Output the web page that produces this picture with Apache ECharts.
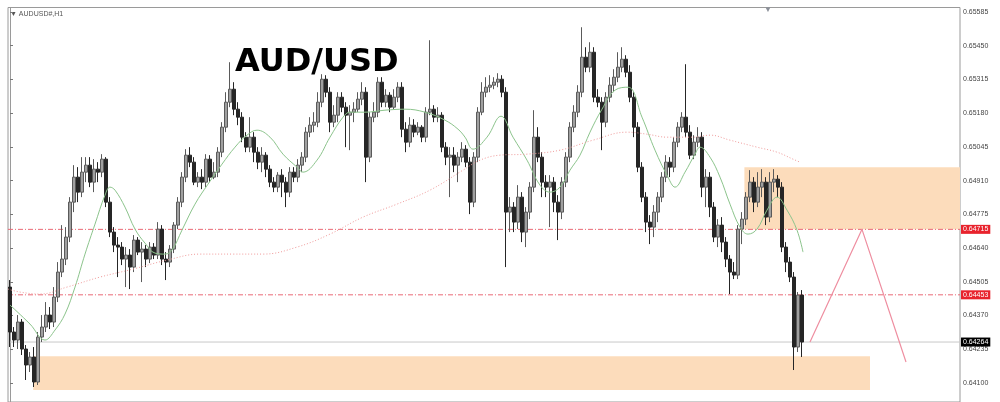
<!DOCTYPE html>
<html><head><meta charset="utf-8">
<script src="https://cdn.jsdelivr.net/npm/echarts@6/dist/echarts.min.js"></script>
<style>html,body{margin:0;padding:0;background:#fff}#c{width:1000px;height:402px}</style>
</head><body><div id="c"></div>
<script>
// ---- data (H1 candles) ----
const opens = [0.64484,0.64304,0.64272,0.64344,0.64236,0.64172,0.64204,0.64104,0.64284,0.64324,
0.64372,0.64344,0.64444,0.64544,0.64596,0.64684,0.64824,0.64924,0.64864,0.64944,
0.64972,0.64904,0.64956,0.64944,0.64996,0.64824,0.64704,0.64652,0.64644,0.64596,
0.64612,0.64564,0.64672,0.64624,0.64636,0.64596,0.64644,0.64612,0.64716,0.64596,
0.64584,0.64636,0.64732,0.64824,0.64924,0.65012,0.64984,0.64904,0.64924,0.64904,
0.64996,0.64924,0.64944,0.65024,0.65124,0.65224,0.65276,0.65196,0.65164,0.65084,
0.65044,0.65084,0.65024,0.64984,0.65012,0.64956,0.64904,0.64884,0.64932,0.64904,
0.64864,0.64944,0.64924,0.64972,0.65004,0.65104,0.65132,0.65144,0.65224,0.65316,
0.65264,0.65144,0.65172,0.65244,0.65204,0.65172,0.65184,0.65196,0.65236,0.65264,
0.65004,0.65164,0.65184,0.65304,0.65224,0.65252,0.65204,0.65244,0.65284,0.65116,
0.65064,0.65132,0.65104,0.65124,0.65084,0.65184,0.65196,0.65164,0.65172,0.65044,
0.65004,0.65012,0.64972,0.65004,0.65036,0.64984,0.64824,0.65004,0.65184,0.65264,
0.65284,0.65292,0.65304,0.65316,0.65264,0.64784,0.64804,0.64744,0.64844,0.64704,
0.64784,0.64884,0.65084,0.65004,0.64904,0.64884,0.64904,0.64824,0.64784,0.64904,
0.65004,0.65124,0.65184,0.65264,0.65404,0.65364,0.65424,0.65244,0.65224,0.65144,
0.65244,0.65292,0.65324,0.65364,0.65396,0.65344,0.65244,0.65124,0.64964,0.64844,
0.64744,0.64724,0.64784,0.64844,0.64924,0.64984,0.64964,0.65064,0.65124,0.65164,
0.65104,0.65012,0.65064,0.65084,0.64884,0.64924,0.64804,0.64684,0.64732,0.64664,
0.64596,0.64544,0.64532,0.64716,0.64756,0.64844,0.64904,0.64824,0.64884,0.64904,
0.64764,0.64904,0.64916,0.64884,0.64644,0.64584,0.64524,0.64244,0.64452];
const closes = [0.64304,0.64272,0.64344,0.64236,0.64172,0.64204,0.64104,0.64284,0.64324,0.64372,
0.64344,0.64444,0.64544,0.64596,0.64684,0.64824,0.64924,0.64864,0.64944,0.64972,
0.64904,0.64956,0.64944,0.64996,0.64824,0.64704,0.64652,0.64644,0.64596,0.64612,
0.64564,0.64672,0.64624,0.64636,0.64596,0.64644,0.64612,0.64716,0.64596,0.64584,
0.64636,0.64732,0.64824,0.64924,0.65012,0.64984,0.64904,0.64924,0.64904,0.64996,
0.64924,0.64944,0.65024,0.65124,0.65224,0.65276,0.65196,0.65164,0.65084,0.65044,
0.65084,0.65024,0.64984,0.65012,0.64956,0.64904,0.64884,0.64932,0.64904,0.64864,
0.64944,0.64924,0.64972,0.65004,0.65104,0.65132,0.65144,0.65224,0.65316,0.65264,
0.65144,0.65172,0.65244,0.65204,0.65172,0.65184,0.65196,0.65236,0.65264,0.65004,
0.65164,0.65184,0.65304,0.65224,0.65252,0.65204,0.65244,0.65284,0.65116,0.65064,
0.65132,0.65104,0.65124,0.65084,0.65184,0.65196,0.65164,0.65172,0.65044,0.65004,
0.65012,0.64972,0.65004,0.65036,0.64984,0.64824,0.65004,0.65184,0.65264,0.65284,
0.65292,0.65304,0.65316,0.65264,0.64784,0.64804,0.64744,0.64844,0.64704,0.64784,
0.64884,0.65084,0.65004,0.64904,0.64884,0.64904,0.64824,0.64784,0.64904,0.65004,
0.65124,0.65184,0.65264,0.65404,0.65364,0.65424,0.65244,0.65224,0.65144,0.65244,
0.65292,0.65324,0.65364,0.65396,0.65344,0.65244,0.65124,0.64964,0.64844,0.64744,
0.64724,0.64784,0.64844,0.64924,0.64984,0.64964,0.65064,0.65124,0.65164,0.65104,
0.65012,0.65064,0.65084,0.64884,0.64924,0.64804,0.64684,0.64732,0.64664,0.64596,
0.64544,0.64532,0.64716,0.64756,0.64844,0.64904,0.64824,0.64884,0.64904,0.64764,
0.64904,0.64916,0.64884,0.64644,0.64584,0.64524,0.64244,0.64452,0.64264];
const lows = [0.64244,0.64244,0.64236,0.64212,0.64112,0.64144,0.64084,0.64092,0.64264,0.64304,
0.64316,0.64324,0.64424,0.64524,0.64572,0.64664,0.64784,0.64824,0.64844,0.64904,
0.64884,0.64864,0.64904,0.64924,0.64804,0.64684,0.64624,0.64524,0.64572,0.64484,
0.64476,0.64544,0.64612,0.64504,0.64564,0.64580,0.64596,0.64596,0.64572,0.64512,
0.64564,0.64620,0.64716,0.64804,0.64904,0.64964,0.64892,0.64884,0.64876,0.64884,
0.64904,0.64916,0.64924,0.65004,0.65104,0.65204,0.65172,0.65132,0.65064,0.65024,
0.65024,0.64984,0.64956,0.64944,0.64924,0.64884,0.64864,0.64864,0.64844,0.64804,
0.64844,0.64904,0.64904,0.64944,0.64984,0.65084,0.65104,0.65124,0.65204,0.65244,
0.65104,0.65124,0.65144,0.65184,0.65044,0.65032,0.65144,0.65184,0.65212,0.64904,
0.64984,0.65144,0.65164,0.65204,0.65204,0.65184,0.65196,0.65224,0.65084,0.65024,
0.65044,0.65084,0.65092,0.65064,0.65064,0.65172,0.65144,0.65144,0.65024,0.64972,
0.64844,0.64944,0.64904,0.64984,0.64964,0.64776,0.64804,0.64984,0.65172,0.65244,
0.65264,0.65276,0.65284,0.65244,0.64564,0.64704,0.64704,0.64716,0.64664,0.64644,
0.64756,0.64864,0.64984,0.64844,0.64844,0.64724,0.64784,0.64672,0.64756,0.64884,
0.64984,0.65104,0.65164,0.65244,0.65344,0.65344,0.65224,0.65204,0.65032,0.65124,
0.65224,0.65264,0.65304,0.65344,0.65324,0.65224,0.65084,0.64944,0.64824,0.64704,
0.64656,0.64684,0.64744,0.64824,0.64904,0.64924,0.64944,0.65044,0.65104,0.65084,
0.64996,0.64996,0.65044,0.64844,0.64804,0.64764,0.64664,0.64644,0.64624,0.64564,
0.64456,0.64516,0.64516,0.64656,0.64732,0.64824,0.64784,0.64804,0.64844,0.64732,
0.64744,0.64864,0.64844,0.64624,0.64544,0.64504,0.64152,0.64224,0.64204];
const highs = [0.64512,0.64324,0.64372,0.64356,0.64252,0.64224,0.64244,0.64304,0.64372,0.64424,
0.64404,0.64484,0.64584,0.64732,0.64724,0.64844,0.64972,0.64964,0.65004,0.65004,
0.65004,0.64996,0.64984,0.65016,0.65004,0.64844,0.64724,0.64684,0.64664,0.64644,
0.64636,0.64692,0.64684,0.64664,0.64652,0.64664,0.64660,0.64744,0.64732,0.64624,
0.64652,0.64744,0.64844,0.64944,0.65036,0.65044,0.65004,0.64944,0.64956,0.65016,
0.65012,0.64984,0.65044,0.65144,0.65264,0.65384,0.65304,0.65224,0.65184,0.65104,
0.65164,0.65104,0.65044,0.65044,0.65024,0.64972,0.64924,0.64944,0.64956,0.64924,
0.64964,0.64964,0.64996,0.65024,0.65124,0.65164,0.65184,0.65264,0.65336,0.65332,
0.65284,0.65212,0.65264,0.65264,0.65224,0.65212,0.65224,0.65264,0.65304,0.65284,
0.65184,0.65224,0.65324,0.65324,0.65276,0.65264,0.65276,0.65304,0.65304,0.65144,
0.65164,0.65156,0.65144,0.65132,0.65204,0.65472,0.65212,0.65204,0.65184,0.65064,
0.65044,0.65044,0.65024,0.65064,0.65052,0.65004,0.65024,0.65204,0.65304,0.65324,
0.65332,0.65324,0.65340,0.65332,0.65284,0.64844,0.64824,0.64892,0.64864,0.64804,
0.64904,0.65192,0.65124,0.65024,0.64932,0.64932,0.64924,0.64852,0.64924,0.65024,
0.65144,0.65212,0.65292,0.65524,0.65444,0.65464,0.65444,0.65276,0.65244,0.65264,
0.65324,0.65356,0.65424,0.65444,0.65412,0.65372,0.65264,0.65144,0.64984,0.64864,
0.64772,0.64812,0.64864,0.64944,0.65012,0.65004,0.65084,0.65144,0.65184,0.65376,
0.65132,0.65092,0.65124,0.65104,0.64956,0.64944,0.64824,0.64756,0.64764,0.64684,
0.64612,0.64584,0.64732,0.64784,0.64864,0.64952,0.64924,0.64944,0.64956,0.64924,
0.64944,0.64956,0.64932,0.64904,0.64664,0.64604,0.64544,0.64464,0.64472];

const slotCount = 238; // bars visible incl. empty right margin
const categories = Array.from({length: slotCount}, (_, i) => 'bar' + i);

const priceTicks = [0.64100,0.64235,0.64370,0.64505,0.64640,0.64775,0.64910,0.65045,0.65180,0.65315,0.65450,0.65585];
const levelPrices = [0.64715, 0.64453];
const bidPrice = 0.64264;

// fast MA (green) sampled at bar positions
const maFastBars = [0,5,8.75,11.25,13.75,16.25,18.75,21.25,23.75,25,26.25,28.75,31.25,33.75,36.25,38.75,40.5,43,46.25,49.5,53,56.25,59.25,61.75,65,68.25,71.75,73.25,76.75,80,83.25,85,88.75,93.75,98.75,103.75,108.75,112,113.75,115.75,119.25,122.75,125.75,129.25,132.5,135,137.5,140,142.5,145,148,151.25,154.5,158,161.25,164.5,166.25,168.75,171.25,172.5,175,177.5,180,182.5,184.5,186.75,189.25,191.75,194.25,196.75,198.25];
const maFastVals = [0.64412,0.64336,0.64272,0.64312,0.64376,0.64484,0.64616,0.64736,0.64852,0.64884,0.64872,0.64804,0.64716,0.64660,0.64620,0.64616,0.64632,0.64712,0.64816,0.64896,0.64976,0.65044,0.65092,0.65112,0.65084,0.65016,0.64964,0.64944,0.64992,0.65084,0.65164,0.65184,0.65184,0.65192,0.65196,0.65184,0.65152,0.65116,0.65084,0.65036,0.65084,0.65168,0.65084,0.64992,0.64892,0.64864,0.64884,0.64952,0.65012,0.65104,0.65196,0.65272,0.65284,0.65164,0.65032,0.64924,0.64884,0.64944,0.65016,0.65044,0.65004,0.64924,0.64816,0.64724,0.64696,0.64716,0.64792,0.64844,0.64792,0.64712,0.64624];
// slow MA (pink dotted)
const maSlowBars = [-0.5,2.5,7.5,14.25,22.5,30.75,39.25,47.5,55.75,63.25,71.75,80,88.25,96.75,105,113.25,117.5,122.5,129.25,137.5,145.75,154.25,159.25,164.25,170.75,175,180,186.75,191.75,195.75,197.5];
const maSlowVals = [0.64476,0.64464,0.64456,0.64484,0.64524,0.64556,0.64592,0.64616,0.64616,0.64616,0.64644,0.64696,0.64764,0.64816,0.64872,0.64952,0.64992,0.65012,0.65016,0.65032,0.65072,0.65104,0.65096,0.65084,0.65084,0.65092,0.65072,0.65044,0.65024,0.64996,0.64984];

// zones: [fromBar, toBar, lowPrice, highPrice]
const supplyZone = [183.6, 237.5, 0.64715, 0.64964];
const demandZone = [5.8, 215, 0.64072, 0.64207];
// projected path
const projBars = [200, 213, 224];
const projPrices = [0.64264, 0.64715, 0.64184];

// ---- chart ----
const chart = echarts.init(document.getElementById('c'), null, {renderer: 'canvas'});
const candleData = opens.map((o, i) => [o, closes[i], lows[i], highs[i]]);
const xFrom = -0.5, xTo = slotCount - 0.5;

function levelSeries(price, lineColor, dash, tagColor) {
  return {
    type: 'line', xAxisIndex: 1, z: 2, showSymbol: false, silent: true,
    data: [[xFrom, price], [xTo, price]],
    lineStyle: {color: lineColor, width: 1, type: dash},
    itemStyle: {color: lineColor},
    endLabel: {
      show: true, distance: 1, formatter: () => price.toFixed(5),
      backgroundColor: tagColor, color: '#fff', fontSize: 7, padding: [1, 2, 1, 2],
      fontFamily: 'Liberation Sans'
    }
  };
}

chart.setOption({
  animation: false,
  backgroundColor: '#fff',
  grid: {left: 8, right: 40, top: 7.5, bottom: -2, show: true, borderColor: '#9a9a9a', borderWidth: 1, backgroundColor: 'transparent'},
  xAxis: [
    {type: 'category', data: categories, boundaryGap: true, axisLine: {show: false}, axisTick: {show: false}, axisLabel: {show: false}, splitLine: {show: false}},
    {type: 'value', min: xFrom, max: xTo, show: false}
  ],
  yAxis: {
    type: 'value', position: 'right', min: 0.64024, max: 0.65603, scale: true,
    axisLine: {show: true, lineStyle: {color: '#9a9a9a'}},
    axisTick: {show: true, length: 3, customValues: priceTicks, lineStyle: {color: '#777'}},
    axisLabel: {show: true, customValues: priceTicks, formatter: v => v.toFixed(5), fontSize: 7, color: '#444', margin: 3, fontFamily: 'Liberation Sans'},
    splitLine: {show: false}
  },
  graphic: [
    {type: 'text', left: 10, top: 11, style: {text: '\u25BC AUDUSD#,H1', fontSize: 7, fill: '#555', fontFamily: 'Liberation Sans'}},
    {type: 'text', left: 764, top: 6, style: {text: '\u25BC', fontSize: 8, fill: '#8a8f99'}},
    {type: 'text', left: 235, top: 47, z: 100, style: {text: 'AUD/USD', fontSize: 32, fontWeight: 'bold', fill: '#000', fontFamily: 'DejaVu Sans'}}
  ],
  series: [
    {
      type: 'custom', xAxisIndex: 1, z: 1,
      encode: {x: [0, 1], y: [2, 3]},
      data: [supplyZone, demandZone],
      renderItem: (params, api) => {
        const a = api.coord([api.value(0), api.value(3)]);
        const b = api.coord([api.value(1), api.value(2)]);
        return {type: 'rect', shape: {x: a[0], y: a[1], width: b[0] - a[0], height: b[1] - a[1]}, style: {fill: '#fcdcbb'}};
      }
    },
    levelSeries(levelPrices[0], '#ea6a76', [5, 2, 1, 2], '#e8232d'),
    levelSeries(levelPrices[1], '#ea6a76', [5, 2, 1, 2], '#e8232d'),
    levelSeries(bidPrice, '#c8c8c8', 'solid', '#000'),
    {
      type: 'candlestick', z: 3, barWidth: 3,
      data: candleData,
      itemStyle: {color: '#a0a0a0', color0: '#262626', borderColor: '#5a5a5a', borderColor0: '#262626', borderWidth: 1}
    },
    {
      type: 'line', xAxisIndex: 1, z: 4, showSymbol: false, smooth: 0.4,
      data: maFastBars.map((b, i) => [b, maFastVals[i]]),
      lineStyle: {color: '#8cc48c', width: 1}
    },
    {
      type: 'line', xAxisIndex: 1, z: 4, showSymbol: false, smooth: 0.4,
      data: maSlowBars.map((b, i) => [b, maSlowVals[i]]),
      lineStyle: {color: '#f09a9a', width: 1, type: [1, 2]}
    },
    {
      type: 'line', xAxisIndex: 1, z: 4, showSymbol: false,
      data: projBars.map((b, i) => [b, projPrices[i]]),
      lineStyle: {color: '#ee8ea0', width: 1.2}
    }
  ]
});
</script></body></html>
